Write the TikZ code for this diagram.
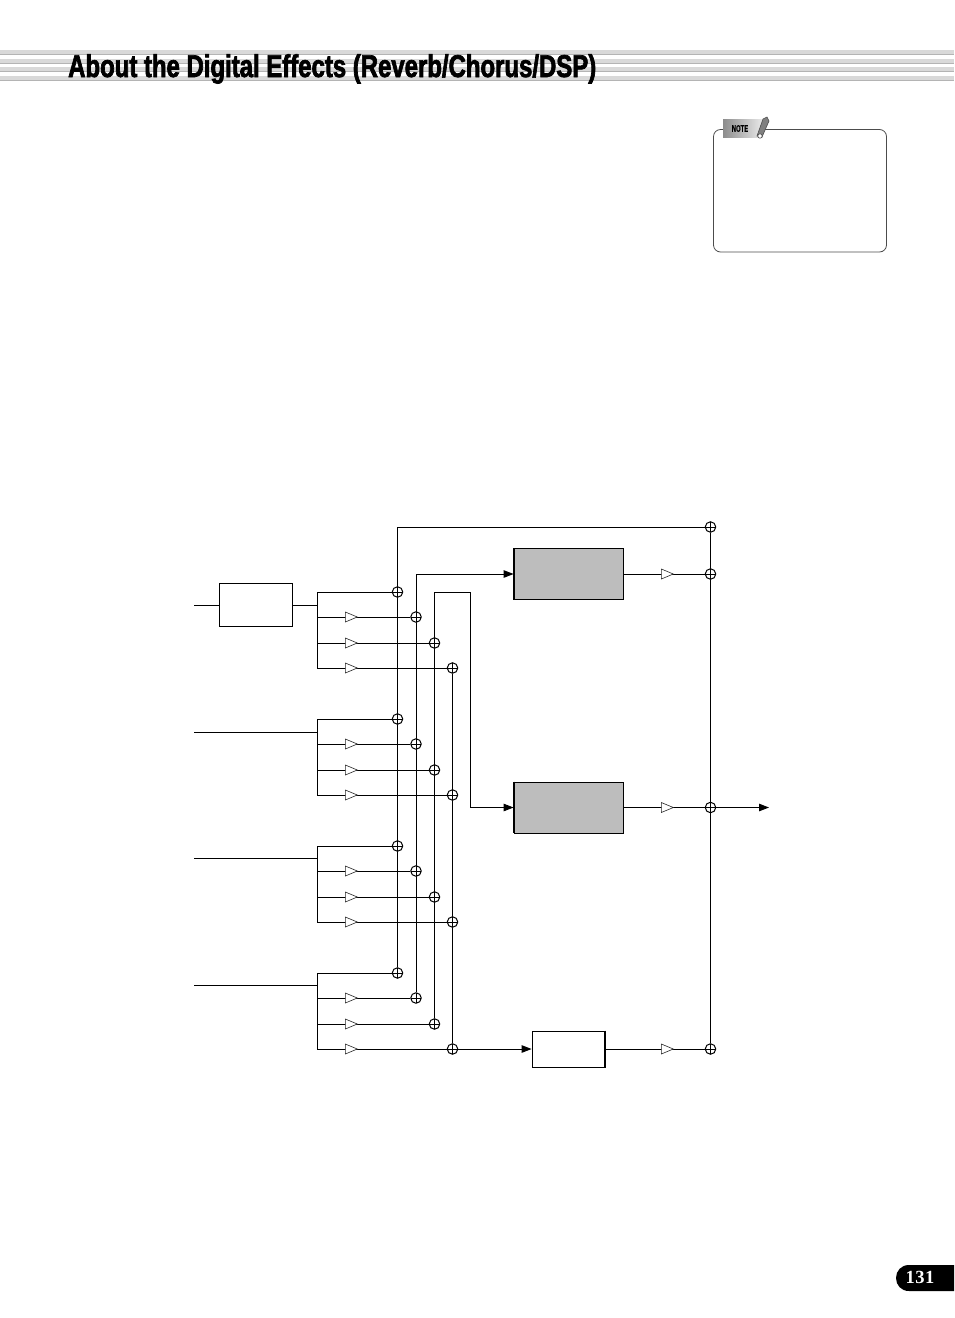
\documentclass[tikz,border=0pt]{standalone}
\usepackage{fontspec}
\newfontfamily\titlefont[FakeStretch=0.76,FakeBold=2.2]{Liberation Sans Bold}
\newfontfamily\notefont[FakeStretch=0.62,FakeBold=0.6]{Liberation Sans Bold}
\newfontfamily\pagefont[LetterSpace=3]{Liberation Serif Bold}
\usetikzlibrary{
  arrows.meta,shapes.geometric,backgrounds
}
\definecolor{bandgray}{HTML}{D9D9D9}
\definecolor{bandline}{HTML}{B4B4B4}
\definecolor{fxgray}{HTML}{BDBDBD}
\tikzset{
  wire/.style={black,line width=1pt},
  wirearrow/.style={wire,-{Triangle[length=10pt,width=7.5pt]}},
  sumnode/.style={circle,draw=black,line width=1pt,fill=white,minimum size=10.5pt,inner sep=0pt,
    path picture={\draw[line width=0.6pt] (path picture bounding box.north)--(path picture bounding box.south)
      (path picture bounding box.west)--(path picture bounding box.east);}},
  ampnode/.style={isosceles triangle,isosceles triangle stretches,draw=black!85,line width=0.6pt,fill=white,
    minimum width=10pt,minimum height=12pt,inner sep=0pt,anchor=west},
  fxbox/.style={rectangle,draw=black,line width=0.8pt,fill=fxgray,minimum width=109pt,minimum height=51pt,inner sep=0pt},
  plainbox/.style={rectangle,draw=black,line width=0.8pt,fill=white,inner sep=0pt},
  thickedge/.style={black,line width=2pt}
}
\begin{document}
\begin{tikzpicture}[x=1pt,y=-1pt]
\useasboundingbox (0,0) rectangle (954,1318);

\foreach \ya/\yb in {50/54.5,59/63.5,67/71.5,76/80.5}{
  \fill[bandgray] (0,\ya) rectangle (954,\yb);
  \draw[bandline,line width=1pt] (0,\yb) -- (954,\yb);
}
\node[anchor=base west,inner sep=0pt] (title) at (68,77) {\titlefont\fontsize{31.5}{34}\selectfont About the Digital Effects (Reverb/Chorus/DSP)};

\draw[black!70,line width=0.8pt,rounded corners=7pt] (713.5,129.5) rectangle (886.5,252);
\shade[left color=black!45,right color=black!8] (723,119) rectangle (763,137);
\node[inner sep=0pt] (notelabel) at (740,128.5) {\notefont\fontsize{9.5}{10}\selectfont NOTE};
\draw[black!70,fill=black!50,line width=0.6pt] (757,136) -- (763,119) -- (767,117) -- (769,121) -- (762,137) -- cycle;
\draw[black!70,fill=white,line width=0.6pt] (760,136) circle (2.2);

\node[plainbox,minimum width=73pt,minimum height=43pt] (delay) at (255.5,605) {};
\node[fxbox] (reverb) at (568.5,574) {};
\node[fxbox] (chorus) at (568.5,807.5) {};
\node[plainbox,minimum width=73pt,minimum height=36pt] (dsp) at (568.5,1049) {};
\draw[thickedge] (reverb.north west) -- (reverb.south west);
\draw[thickedge] (chorus.north west) -- (chorus.south west);
\draw[thickedge] (dsp.north east) -- (dsp.south east);

\node[sumnode] (top) at (710.5,527) {};
\node[sumnode] (sumrev) at (710.5,574) {};
\node[sumnode] (sumcho) at (710.5,807.5) {};
\node[sumnode] (sumdsp) at (710.5,1049) {};
\coordinate (outend) at (769,807.5);
\coordinate (corner) at (397.5,527);

\foreach \g/\ya/\yb/\yc/\yd/\yin in {1/592/617/643/668/605,2/719/744/770/795/732,3/846/871/897/922/858,4/973/998/1024/1049/985}{
  \coordinate (t\g) at (317,\yin);
  \coordinate (ta\g) at (317,\ya);
  \coordinate (td\g) at (317,\yd);
  \node[sumnode] (s\g a) at (397.5,\ya) {};
  \node[sumnode] (s\g b) at (416,\yb) {};
  \node[sumnode] (s\g c) at (434.5,\yc) {};
  \node[sumnode] (s\g d) at (452.5,\yd) {};
  \node[ampnode] (a\g b) at (345,\yb) {};
  \node[ampnode] (a\g c) at (345,\yc) {};
  \node[ampnode] (a\g d) at (345,\yd) {};
  \begin{scope}[on background layer]
    \draw[wire] (ta\g) -- (s\g a);
    \draw[wire] (ta\g) -- (td\g);
    \draw[wire] (s\g b) -- (s\g b -| t\g);
    \draw[wire] (s\g c) -- (s\g c -| t\g);
    \draw[wire] (s\g d) -- (td\g);
  \end{scope}
}

\coordinate (inA) at (194,605);
\coordinate (inB) at (194,732);
\coordinate (inC) at (194,858);
\coordinate (inD) at (194,985);
\coordinate (revtop) at (416,574);
\coordinate (chotop) at (434.5,592);
\coordinate (chobus) at (470.5,592);
\coordinate (chodrop) at (470.5,807.5);
\node[ampnode] (arev) at (661,574) {};
\node[ampnode] (acho) at (661,807.5) {};
\node[ampnode] (adsp) at (661,1049) {};

\begin{scope}[on background layer]
\draw[wire] (inA) -- (delay);
\draw[wire] (delay) -- (t1);
\draw[wire] (inB) -- (t2);
\draw[wire] (inC) -- (t3);
\draw[wire] (inD) -- (t4);
\draw[wire] (s4a) -- (corner) -- (top);
\draw[wire] (s4b) -- (revtop);
\draw[wirearrow] (revtop) -- (reverb);
\draw[wire] (s4c) -- (chotop) -- (chobus) -- (chodrop);
\draw[wirearrow] (chodrop) -- (chorus);
\draw[wire] (s1d) -- (s4d);
\draw[wirearrow] (s4d) -- (dsp);
\draw[wire] (reverb) -- (sumrev);
\draw[wire] (chorus) -- (sumcho);
\draw[wire] (dsp) -- (sumdsp);
\draw[wire] (top) -- (sumdsp);
\draw[wirearrow] (sumcho) -- (outend);
\end{scope}

\fill[black] (954,1265) -- (909,1265) .. controls (901,1265) and (896,1271) .. (896,1278) .. controls (896,1285) and (901,1291) .. (909,1291) -- (954,1291) -- cycle;
\node[inner sep=0pt,text=white,anchor=base] (pagenum) at (920,1283.5) {\pagefont\fontsize{18.5}{20}\selectfont 131};
\end{tikzpicture}
\end{document}
